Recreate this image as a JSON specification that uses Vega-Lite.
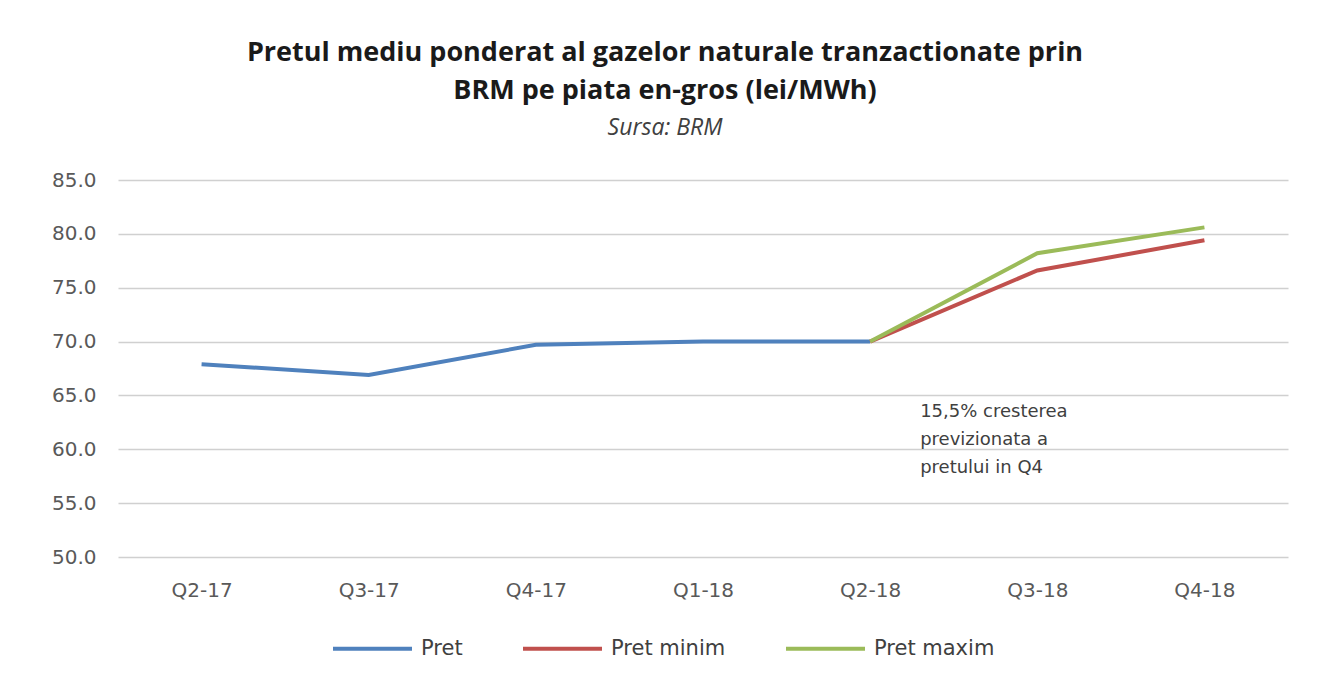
{
  "$schema": "https://vega.github.io/schema/vega-lite/v6.json",
  "autosize": "none",
  "padding": {"left": 118, "top": 180, "right": 42, "bottom": 129},
  "width": 1170,
  "height": 377,
  "background": "white",
  "title": {
    "text": ["Pretul mediu ponderat al gazelor naturale tranzactionate prin", "BRM  pe piata en-gros (lei/MWh)"],
    "subtitle": "Sursa: BRM",
    "anchor": "middle",
    "dx": -38,
    "offset": 29,
    "font": "Open Sans",
    "fontSize": 27,
    "fontWeight": "bold",
    "color": "#1a1a1a",
    "lineHeight": 38,
    "subtitleFont": "Open Sans",
    "subtitleFontSize": 23,
    "subtitleFontStyle": "italic",
    "subtitleColor": "#404040",
    "subtitlePadding": 12
  },
  "config": {
    "view": {"stroke": null},
    "axis": {"labelFont": "DejaVu Sans", "labelColor": "#595959", "labelFontSize": 20}
  },
  "layer": [
    {
      "data": {"values": [
        {"q": "Q2-17", "series": "Pret", "value": 67.9},
        {"q": "Q3-17", "series": "Pret", "value": 66.9},
        {"q": "Q4-17", "series": "Pret", "value": 69.7},
        {"q": "Q1-18", "series": "Pret", "value": 70.0},
        {"q": "Q2-18", "series": "Pret", "value": 70.0},
        {"q": "Q2-18", "series": "Pret minim", "value": 70.0},
        {"q": "Q3-18", "series": "Pret minim", "value": 76.6},
        {"q": "Q4-18", "series": "Pret minim", "value": 79.4},
        {"q": "Q2-18", "series": "Pret maxim", "value": 70.0},
        {"q": "Q3-18", "series": "Pret maxim", "value": 78.2},
        {"q": "Q4-18", "series": "Pret maxim", "value": 80.6}
      ]},
      "mark": {"type": "line", "strokeWidth": 4},
      "encoding": {
        "x": {
          "field": "q", "type": "ordinal",
          "sort": ["Q2-17", "Q3-17", "Q4-17", "Q1-18", "Q2-18", "Q3-18", "Q4-18"],
          "scale": {"type": "point", "padding": 0.5},
          "axis": {"title": null, "labelAngle": 0, "ticks": false, "domain": false, "labelPadding": 23, "grid": false}
        },
        "y": {
          "field": "value", "type": "quantitative",
          "scale": {"domain": [50, 85], "nice": false, "zero": false},
          "axis": {"title": null, "values": [50, 55, 60, 65, 70, 75, 80, 85], "format": ".1f", "ticks": false, "domain": false, "labelPadding": 22, "gridColor": "#d0d0d0", "gridWidth": 1.5}
        },
        "color": {
          "field": "series", "type": "nominal",
          "scale": {"domain": ["Pret", "Pret minim", "Pret maxim"], "range": ["#4F81BD", "#C0504D", "#9BBB59"]},
          "legend": {
            "title": null, "orient": "none", "direction": "horizontal",
            "legendX": 213, "legendY": 427,
            "symbolType": "stroke", "symbolSize": 6241, "symbolStrokeWidth": 4,
            "labelFont": "DejaVu Sans", "labelFontSize": 21, "labelColor": "#404040",
            "columnPadding": 52, "labelOffset": 7
          }
        }
      }
    },
    {
      "data": {"values": [{"q": "Q2-18", "y": 64.3, "label": "15,5% cresterea\nprevizionata a\npretului in Q4"}]},
      "mark": {"type": "text", "align": "left", "baseline": "top", "dx": 50, "lineBreak": "\n", "lineHeight": 28, "font": "DejaVu Sans", "fontSize": 18, "color": "#404040"},
      "encoding": {
        "x": {"field": "q", "type": "ordinal", "sort": ["Q2-17", "Q3-17", "Q4-17", "Q1-18", "Q2-18", "Q3-18", "Q4-18"]},
        "y": {"field": "y", "type": "quantitative"},
        "text": {"field": "label"}
      }
    }
  ]
}
